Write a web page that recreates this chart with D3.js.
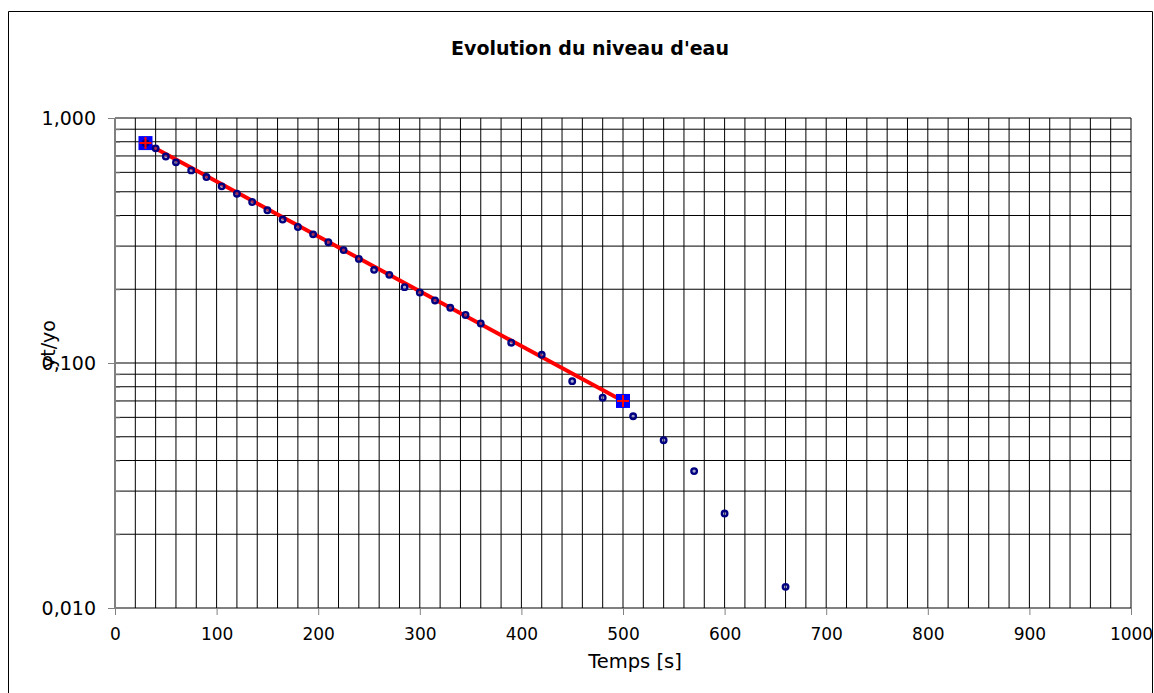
<!DOCTYPE html>
<html>
<head>
<meta charset="utf-8">
<script src="https://cdn.jsdelivr.net/npm/d3@7"></script>
<style>
  html, body { margin: 0; padding: 0; background: #fff; }
  svg { display: block; }
  text { font-family: "DejaVu Sans", Verdana, sans-serif; fill: #000; }
</style>
</head>
<body>
<svg id="chart" width="1154" height="693"></svg>
<script>
// Measured relative water level yt/yo over time (s)
const timeValues = [30, 40, 50, 60, 75, 90, 105, 120, 135, 150, 165, 180, 195, 210, 225, 240,
  255, 270, 285, 300, 315, 330, 345, 360, 390, 420, 450, 480, 510, 540, 570, 600, 660];
const levelValues = [0.79, 0.752, 0.696, 0.659, 0.611, 0.574, 0.526, 0.491, 0.454, 0.420, 0.385,
  0.359, 0.335, 0.311, 0.289, 0.266, 0.240, 0.229, 0.204, 0.194, 0.180, 0.168, 0.157, 0.145,
  0.121, 0.108, 0.0843, 0.0722, 0.0606, 0.0484, 0.0362, 0.0243, 0.0122];

// Straight-line fit (on the log scale) between the two chosen points
const fitTime = [30, 500];
const fitLevel = [0.79, 0.070];

// Axis ticks
const xTickValues = [0, 100, 200, 300, 400, 500, 600, 700, 800, 900, 1000];
const yTickValues = [0.01, 0.1, 1];

const titleText = "Evolution du niveau d'eau";
const xTitle = "Temps [s]";
const yTitle = "yt/yo";

const svg = d3.select("#chart");

// Outer chart frame
svg.append("path")
  .attr("d", "M8.5,693 V11.5 H1152.5 V693")
  .attr("fill", "none").attr("stroke", "#000").attr("stroke-width", 1);

const x = d3.scaleLinear().domain([0, 1000]).range([115, 1131]);
const y = d3.scaleLog().domain([0.01, 1]).range([608, 118]);

const frFormat = d3.formatLocale({decimal: ",", thousands: " ", grouping: [3], currency: ["", ""]}).format(".3f");

// Grid: every 20 s vertically, 1..9 per decade horizontally
const xGrid = d3.range(0, 1001, 20);
const yGrid = [];
[0.01, 0.1].forEach(d => { for (let k = 1; k < 10; k++) yGrid.push(d * k); });
yGrid.push(1);

const grid = svg.append("g").attr("stroke", "#000").attr("stroke-width", 1);
grid.selectAll("line.v").data(xGrid).join("line").attr("class", "v")
  .attr("x1", d => x(d)).attr("x2", d => x(d)).attr("y1", y(1)).attr("y2", y(0.01));
grid.selectAll("line.h").data(yGrid).join("line").attr("class", "h")
  .attr("x1", x(0)).attr("x2", x(1000)).attr("y1", d => y(d)).attr("y2", d => y(d));

// Axes
const yAxis = svg.append("g").attr("transform", `translate(${x(0)},0)`)
  .call(d3.axisLeft(y).tickValues(yTickValues).tickFormat(frFormat).tickSize(7).tickPadding(12));
const yMinor = svg.append("g").attr("transform", `translate(${x(0)},0)`)
  .call(d3.axisLeft(y).tickValues(yGrid).tickFormat("").tickSize(-5));
const xAxis = svg.append("g").attr("transform", `translate(0,${y(0.01)})`)
  .call(d3.axisBottom(x).tickValues(xTickValues).tickFormat(d3.format("d")).tickSize(7).tickPadding(13));

[yAxis, yMinor, xAxis].forEach(g => {
  g.selectAll("path, line").attr("stroke", "#808080");
  g.select(".domain").attr("stroke", "#808080");
});
yAxis.selectAll("text").style("font-size", "19px").attr("dy", "0.36em");
xAxis.selectAll("text").style("font-size", "17px");

// Fit line
svg.append("path")
  .datum(fitTime.map((t, i) => [t, fitLevel[i]]))
  .attr("fill", "none").attr("stroke", "#ff0000").attr("stroke-width", 4)
  .attr("d", d3.line().x(d => x(d[0])).y(d => y(d[1])));

// Square markers at fit ends
const fitPts = fitTime.map((t, i) => [t, fitLevel[i]]);
svg.selectAll("rect.fit").data(fitPts).join("rect").attr("class", "fit")
  .attr("x", d => x(d[0]) - 7).attr("y", d => y(d[1]) - 7)
  .attr("width", 14).attr("height", 14).attr("fill", "#0000ff");

// Measured points
svg.selectAll("circle.obs").data(timeValues.map((t, i) => [t, levelValues[i]])).join("circle")
  .attr("class", "obs")
  .attr("cx", d => x(d[0])).attr("cy", d => y(d[1])).attr("r", 2.8)
  .attr("fill", "rgba(80,80,160,0.5)").attr("stroke", "#000080").attr("stroke-width", 2.3);

// Plus markers on the fit ends
const plus = svg.append("g").attr("stroke", "#ff0000").attr("stroke-width", 2);
plus.selectAll("path").data(fitPts).join("path")
  .attr("d", d => `M${x(d[0]) - 6},${y(d[1])}h12M${x(d[0])},${y(d[1]) - 6}v12`);

// Titles
svg.append("text").attr("x", 590).attr("y", 55).attr("text-anchor", "middle")
  .style("font-size", "19px").style("font-weight", "bold").text(titleText);
svg.append("text").attr("x", 635).attr("y", 668).attr("text-anchor", "middle")
  .style("font-size", "19.5px").text(xTitle);
svg.append("text").attr("transform", "translate(55,344) rotate(-90)").attr("text-anchor", "middle")
  .style("font-size", "19px").text(yTitle);
</script>
</body>
</html>
